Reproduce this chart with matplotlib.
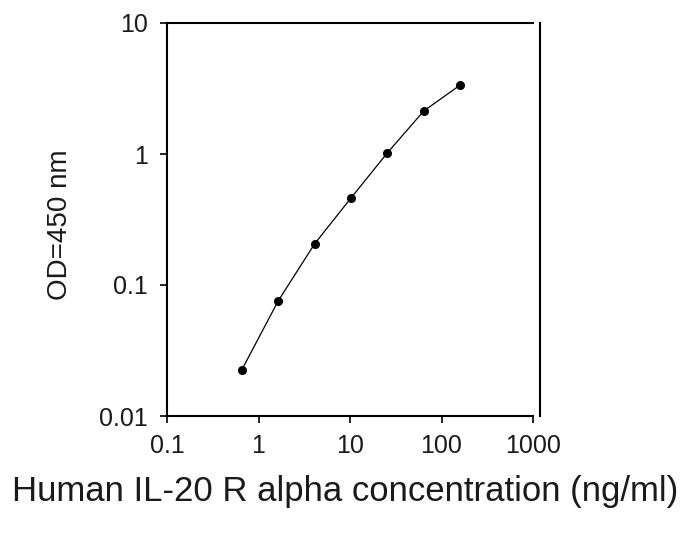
import matplotlib
matplotlib.use("Agg")
import matplotlib.pyplot as plt

plt.rcParams['font.family'] = ['Liberation Sans', 'DejaVu Sans']

concentration = [0.655, 1.64, 4.1, 10.24, 25.6, 64, 160]
od450 = [0.0224, 0.0755, 0.206, 0.461, 1.02, 2.13, 3.36]
x_ticks = [0.1, 1, 10, 100, 1000]
x_tick_labels = ["0.1", "1", "10", "100", "1000"]
y_ticks = [0.01, 0.1, 1, 10]
y_tick_labels = ["0.01", "0.1", "1", "10"]

fig = plt.figure(figsize=(6.88, 5.41), dpi=100)
ax = fig.add_axes([167/688, 1-416/541, (533-167)/688, (416-23)/541])

ax.plot(concentration, od450, color='black', linewidth=0.9, marker='o',
        markersize=5.5, markerfacecolor='black', markeredgecolor='black')

ax.set_xscale('log')
ax.set_yscale('log')
ax.set_xlim(0.1, 1000)
ax.set_ylim(0.01, 10)
ax.set_xticks(x_ticks)
ax.set_xticklabels(x_tick_labels)
ax.set_yticks(y_ticks)
ax.set_yticklabels(y_tick_labels)
ax.minorticks_off()
ax.tick_params(axis='both', direction='out', length=5, width=1.2,
               labelsize=18, colors='black', labelcolor='#1a1a1a')
ax.tick_params(axis='x', pad=8)
ax.tick_params(axis='y', pad=9)

for s in ax.spines.values():
    s.set_linewidth(1.5)
ax.spines['right'].set_position(('outward', 5))

ax.set_xlabel('Human IL-20 R alpha concentration (ng/ml)', fontsize=25,
              va='center', color='#1a1a1a')
ax.xaxis.set_label_coords((345-167)/366, (416-492)/393)
ax.set_ylabel('OD=450 nm', fontsize=20, va='center', color='#1a1a1a')
ax.yaxis.set_label_coords((60-167)/366, (416-225)/393)

fig.savefig('out.png', dpi=100)
